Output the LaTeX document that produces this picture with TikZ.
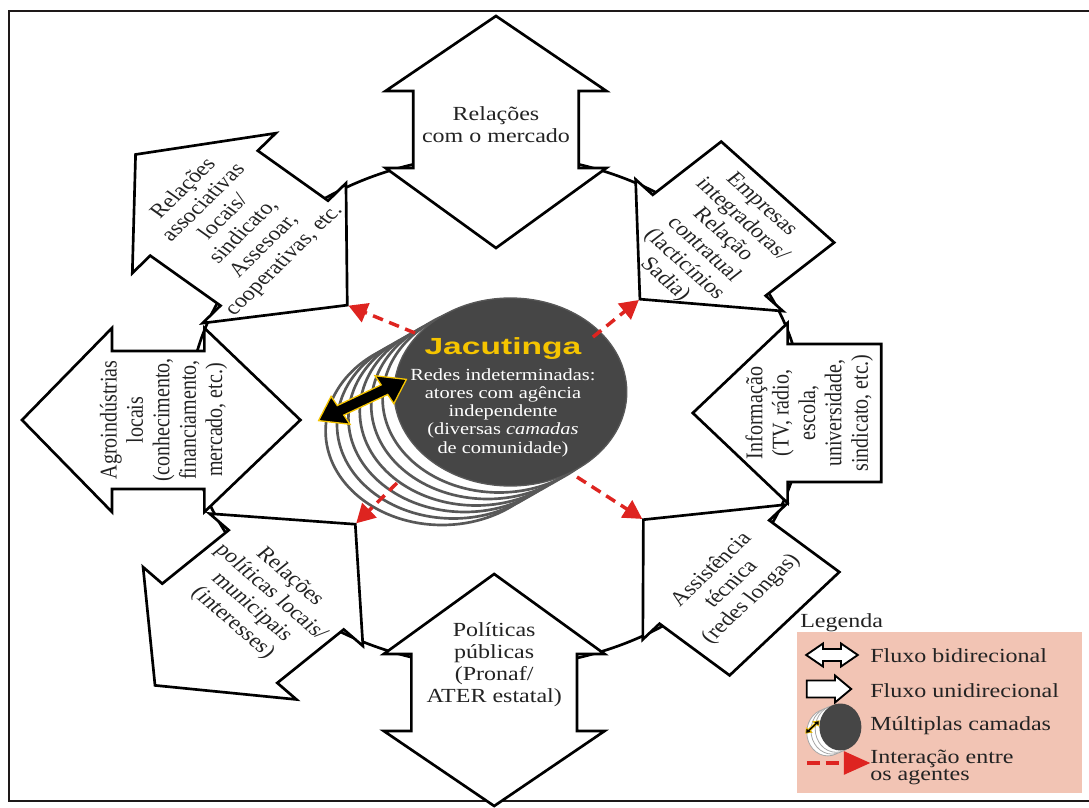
\documentclass[tikz,border=0pt]{standalone}
\usepackage{fontspec}
\usepackage{graphicx}
\setmainfont{Liberation Serif}
\setsansfont{Liberation Sans}
\usetikzlibrary{arrows.meta,shapes.geometric}

\definecolor{hubgray}{RGB}{70,70,70}
\definecolor{ringgray}{RGB}{88,88,88}
\definecolor{jyellow}{RGB}{245,196,0}
\definecolor{flowred}{RGB}{222,36,32}
\definecolor{legendbg}{RGB}{242,196,180}
\definecolor{ink}{RGB}{35,35,35}
\definecolor{framecol}{RGB}{30,25,25}

\tikzset{
  flowbox/.style={draw=black, line width=2pt, fill=white, line join=miter},
  flowtext/.style={inner sep=0pt, align=center, text=ink, font=\fontsize{15}{16.5}\selectfont},
  legendtext/.style={inner sep=0pt, text=ink, font=\fontsize{15}{12.75}\selectfont},
  layerring/.style={draw=ringgray, line width=2pt, fill=white},
  smallring/.style={draw=gray!70, line width=0.6pt, fill=white},
  interact/.style={draw=flowred, line width=2.6pt, dash pattern=on 8pt off 5pt,
    -{Triangle[length=14pt,width=15pt]}, shorten >=1pt},
  pics/biflow/.style={code={
    \draw[flowbox] (395,0) -- (320,92) -- (320,69) -- (243,69) -- (243,92) -- (163,0)
      -- (243,-92) -- (243,-69) -- (320,-69) -- (320,-92) -- cycle;
    \coordinate (-in) at (163,0);}},
  pics/uniflow/.style={code={
    \draw[flowbox] (321,69) -- (243,69) -- (243,90) -- (164,0) -- (243,-90)
      -- (243,-69) -- (321,-69) -- cycle;
    \coordinate (-in) at (164,0);}},
}

\begin{document}
\begin{tikzpicture}[x=0.75pt, y=0.75pt, xscale=1.2, transform shape]
\useasboundingbox (-413.33,-396) rectangle (494.17,411);

% outer frame
\draw[framecol, line width=2.2pt] (500,400) -- (-405.8,400) -- (-405.8,-390) -- (500,-390);

% ring joining the eight flows
\draw[black, line width=2pt] (0,0) circle[radius=256];

% the eight flows
\begin{scope}[rotate=90]
  \pic (mk) {biflow};
  \node[flowtext, rotate=-90] (mktext) at (286,0) {Relações\\com o mercado};
\end{scope}
\begin{scope}[rotate=43]
  \pic (ur) {uniflow};
  \node[flowtext, rotate=-90] (urtext) at (247,0) {Empresas\\integradoras/\\Relação\\contratual\\(lacticínios\\Sadia)};
\end{scope}
\begin{scope}[shift={(0,-2)}]
  \pic (rt) {uniflow};
  \node[flowtext, rotate=90] (rttext) at (261,0) {Informação\\(TV, rádio,\\escola,\\universidade,\\sindicato, etc.)};
\end{scope}
\begin{scope}[rotate=-41.5]
  \pic (lr) {uniflow};
  \node[flowtext, rotate=90] (lrtext) at (262,0) {Assistência\\técnica\\(redes longas)};
\end{scope}
\begin{scope}[shift={(-1.5,0)}, rotate=-90]
  \pic (bt) {biflow};
  \node[flowtext, rotate=90] (bttext) at (254,0) {Políticas\\públicas\\(Pronaf/\\ATER estatal)};
\end{scope}
\begin{scope}[rotate=-136]
  \pic (ll) {biflow};
  \node[flowtext, rotate=90] (lltext) at (272,0) {Relações\\políticas locais/\\municipais\\(interesses)};
\end{scope}
\begin{scope}[shift={(0,-9)}, rotate=180]
  \pic (lf) {biflow};
  \node[flowtext, rotate=-90] (lftext) at (277,0) {Agroindústrias\\locais\\(conhecimento,\\financiamento,\\mercado, etc.)};
\end{scope}
\begin{scope}[rotate=139.5]
  \pic (ul) {biflow};
  \node[flowtext, rotate=-90] (ultext) at (287,0) {Relações\\associativas\\locais/\\sindicato,\\Assesoar,\\cooperativas, etc.};
\end{scope}

% community layers behind the hub
\foreach \k in {6,5,...,1}
  \draw[layerring] ({12-9.5*\k},{19-6.5*\k}) ellipse[x radius=97, y radius=94];
\node[ellipse, fill=hubgray, draw=ringgray, line width=1pt, minimum width=145.5pt, minimum height=141pt, inner sep=0pt] (hub) at (12,19) {};
\node[inner sep=0pt, text=jyellow, font=\sffamily\bfseries\fontsize{17.5}{18}\selectfont] (hubtitle) at (5.8,62) {\scalebox{1.2}[1]{Jacutinga}};
\node[inner sep=0pt, align=center, text=white, font=\fontsize{12.75}{13.7}\selectfont] (hubtext) at (5.8,-1.5)
  {Redes indeterminadas:\\atores com agência\\independente\\(diversas \textit{camadas}\\de comunidade)};

% black double arrow across the layers
\begin{scope}[shift={(-111.25,11)}, rotate=29.4]
  \draw[fill=black, draw=jyellow, line width=1pt, line join=miter]
    (-42,0) -- (-21,16) -- (-21,5.5) -- (21,5.5) -- (21,16) -- (42,0)
    -- (21,-16) -- (21,-5.5) -- (-21,-5.5) -- (-21,-16) -- cycle;
\end{scope}

% interactions between agents
\coordinate (ulfrom) at (-67.5,78);
\coordinate (urfrom) at (80.8,74);
\coordinate (llfrom) at (-82.5,-72);
\coordinate (lrfrom) at (67.5,-66);
\draw[interact] (ulfrom) -- (ul-in);
\draw[interact] (urfrom) -- (ur-in);
\draw[interact] (llfrom) -- (ll-in);
\draw[interact] (lrfrom) -- (lr-in);

% legend
\node[legendtext, anchor=base west] (legtitle) at (253.3,-216) {Legenda};
\fill[legendbg] (250.8,-221) rectangle (488.3,-382);
\begin{scope}[shift={(280,-244)}]
  \draw[fill=white, draw=black, line width=1.4pt, line join=miter]
    (-21.5,0) -- (-7.5,11.5) -- (-7.5,6) -- (7.5,6) -- (7.5,11.5) -- (21.5,0)
    -- (7.5,-11.5) -- (7.5,-6) -- (-7.5,-6) -- (-7.5,-11.5) -- cycle;
\end{scope}
\node[legendtext, anchor=base west] (legbi) at (311.7,-251) {Fluxo bidirecional};
\begin{scope}[shift={(0,-278)}]
  \draw[fill=white, draw=black, line width=1.4pt, line join=miter]
    (259,8.5) -- (282.5,8.5) -- (282.5,13.5) -- (296,0) -- (282.5,-13.5) -- (282.5,-8.5) -- (259,-8.5) -- cycle;
\end{scope}
\node[legendtext, anchor=base west] (leguni) at (311.7,-286) {Fluxo unidirecional};
\foreach \k in {3,2,1}
  \draw[smallring] ({287-3.5*\k},{-316-1.8*\k}) ellipse[x radius=17.5, y radius=23.5];
\fill[hubgray] (287,-316) ellipse[x radius=17.5, y radius=23.5];
\begin{scope}[shift={(263.75,-316)}, rotate=48, scale=0.2]
  \draw[fill=black, draw=jyellow, line width=0.5pt, line join=miter]
    (-42,0) -- (-21,16) -- (-21,5.5) -- (21,5.5) -- (21,16) -- (42,0)
    -- (21,-16) -- (21,-5.5) -- (-21,-5.5) -- (-21,-16) -- cycle;
\end{scope}
\node[legendtext, anchor=base west] (legmulti) at (311.7,-319) {Múltiplas camadas};
\coordinate (legfrom) at (259,-352);
\coordinate (legto) at (312,-352);
\draw[draw=flowred, line width=3pt, dash pattern=on 10pt off 4pt,
  -{Triangle[length=20pt,width=17pt]}] (legfrom) -- (legto);
\node[legendtext, anchor=north west, align=left] (leginter) at (311.7,-338.4) {Interação entre\\os agentes};
\end{tikzpicture}
\end{document}
